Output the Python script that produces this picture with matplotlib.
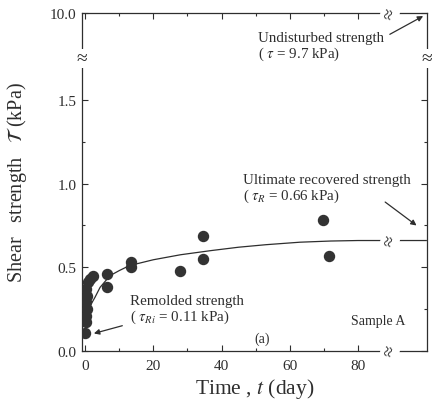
import matplotlib
matplotlib.use("Agg")
import matplotlib.pyplot as plt
import numpy as np

# measured data (time in days, shear strength in kPa)
t_data = [0.0, 0.3, 0.2, 0.5, 0.3, 0.6, 0.4, 0.8, 1.5, 2.4, 6.4, 6.4,
          13.5, 13.5, 27.8, 34.6, 34.6, 69.6, 71.6]
tau_data = [0.11, 0.17, 0.21, 0.25, 0.29, 0.33, 0.37, 0.41, 0.43, 0.45, 0.46, 0.38,
            0.53, 0.50, 0.48, 0.69, 0.55, 0.78, 0.57]

# fitted recovery curve
t_fit = [0.0, 0.5, 1.5, 2.9, 4.4, 7.3, 10, 13, 20, 28, 37, 45, 53, 63, 72, 80, 87, 100]
tau_fit = [0.11, 0.18, 0.27, 0.32, 0.38, 0.45, 0.48, 0.51, 0.545, 0.575, 0.60,
           0.62, 0.635, 0.65, 0.657, 0.66, 0.66, 0.66]

x_ticks = [0, 20, 40, 60, 80]
y_ticks = [0.0, 0.5, 1.0, 1.5]
y_labels = ["0.0", "0.5", "1.0", "1.5"]
y_top = 2.02          # broken axis: the top edge stands for 10.0 kPa
x_right = 100.2       # broken axis: the right edge stands for t -> infinity

plt.rcParams["font.family"] = ["Liberation Serif", "DejaVu Serif"]
plt.rcParams["mathtext.fontset"] = "stix"

fig = plt.figure(figsize=(4.35, 4.14), dpi=100)
ax = fig.add_axes([0.1885, 0.150, 0.793, 0.816])
ink = "#2e2e2e"

ax.plot(t_fit, tau_fit, color=ink, lw=0.9, zorder=2)
ax.plot(t_data, tau_data, "o", color="#333333", ms=7.2, mec="#333333", zorder=3)

ax.set_xlim(-0.9, x_right)
ax.set_ylim(0, y_top)
ax.set_xticks(x_ticks)
ax.set_xticks([10, 30, 50, 70], minor=True)
ax.set_yticks(y_ticks + [y_top])
ax.set_yticklabels(y_labels + ["10.0"])
ax.set_yticks([0.25, 0.75, 1.25], minor=True)
ax.tick_params(which="both", direction="in", top=True, right=True,
               color=ink, labelcolor=ink, labelsize=11, width=0.8)
ax.tick_params(which="major", length=4)
ax.tick_params(which="minor", length=2.5)
ax.tick_params(axis="x", pad=6)
ax.tick_params(axis="y", pad=4)
for s in ax.spines.values():
    s.set_color(ink)
    s.set_linewidth(0.9)

ax.set_xlabel(r"Time , $t$ (day)", fontsize=15.5, color=ink, labelpad=3)
ax.set_ylabel(r"Shear   strength   $\mathcal{T}$ (kPa)", fontsize=14.5, color=ink, labelpad=15)

# break marks on the axes and on the curve
brk = dict(color=ink, ha="center", va="center", fontsize=14, clip_on=False, zorder=5,
           bbox=dict(boxstyle="square,pad=0.05", fc="white", ec="none"))
for yy in (0.0, y_top, 0.66):
    ax.text(89.4, yy, "\u2248", rotation=75, **brk)
for xx in (-0.9, x_right):
    ax.text(xx, 1.75, "\u2248", **brk)

fs = 10.8
ax.text(50.7, 1.82, "Undisturbed strength\n( $\\tau$ = 9.7 kPa)", fontsize=fs, color=ink,
        ha="left", va="center", linespacing=1.05)
ax.annotate("", xy=(99.8, 2.01), xytext=(88.6, 1.885),
            arrowprops=dict(arrowstyle="-|>", color=ink, lw=0.9, mutation_scale=8))

ax.text(46.3, 0.97, "Ultimate recovered strength\n( $\\tau_R$ = 0.66 kPa)", fontsize=fs,
        color=ink, ha="left", va="center", linespacing=1.05)
ax.annotate("", xy=(97.8, 0.74), xytext=(87.3, 0.90),
            arrowprops=dict(arrowstyle="-|>", color=ink, lw=0.9, mutation_scale=8))

ax.text(13.2, 0.25, "Remolded strength\n( $\\tau_{Ri}$ = 0.11 kPa)", fontsize=fs,
        color=ink, ha="left", va="center", linespacing=1.05)
ax.annotate("", xy=(1.8, 0.10), xytext=(11.7, 0.155),
            arrowprops=dict(arrowstyle="-|>", color=ink, lw=0.9, mutation_scale=8))

ax.text(51.9, 0.078, "(a)", fontsize=10, color=ink, ha="center", va="center")
ax.text(85.9, 0.18, "Sample A", fontsize=10, color=ink, ha="center", va="center")

fig.savefig("out.png", dpi=100, facecolor="white")
